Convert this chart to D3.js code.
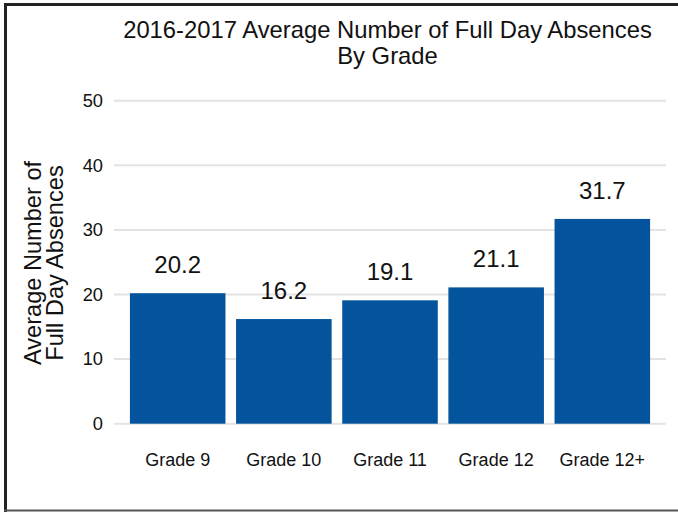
<!DOCTYPE html>
<html>
<head>
<meta charset="utf-8">
<script src="https://cdn.jsdelivr.net/npm/d3@7/dist/d3.min.js"></script>
<style>
  html, body { margin: 0; padding: 0; background: #fff; }
  svg { display: block; font-family: "Liberation Sans", Arial, sans-serif; }
</style>
</head>
<body>
<svg id="chart" width="678" height="512"></svg>
<script>
// Average full-day absences per grade, 2016-2017
const grades = ["Grade 9", "Grade 10", "Grade 11", "Grade 12", "Grade 12+"];
const absences = [20.2, 16.2, 19.1, 21.1, 31.7];
const yTicks = [0, 10, 20, 30, 40, 50];
const titleLines = ["2016-2017 Average Number of Full Day Absences", "By Grade"];
const yTitleLines = ["Average Number of", "Full Day Absences"];

const W = 678, H = 512;
const plot = { left: 114, right: 666, top: 100.7, bottom: 423.7 };
const barColor = "#03549d";
const gridColor = "#e3e3e3";

const svg = d3.select("#chart");

// frame around the figure
svg.append("rect").attr("x", 0).attr("y", 0).attr("width", W).attr("height", H).attr("fill", "#fff");
svg.append("line").attr("x1", 5.5).attr("x2", 5.5).attr("y1", 3).attr("y2", H)
  .attr("stroke", "#222").attr("stroke-width", 3);
svg.append("line").attr("x1", 4).attr("x2", W).attr("y1", 4.5).attr("y2", 4.5)
  .attr("stroke", "#222").attr("stroke-width", 3);
svg.append("line").attr("x1", 4).attr("x2", W).attr("y1", 510.5).attr("y2", 510.5)
  .attr("stroke", "#555").attr("stroke-width", 2);

const x = d3.scaleBand()
  .domain(grades)
  .range([plot.left, plot.right])
  .paddingInner(0.1)
  .paddingOuter(0.15);

const y = d3.scaleLinear()
  .domain([0, 50])
  .range([plot.bottom, plot.top]);

// horizontal gridlines
svg.append("g")
  .selectAll("line")
  .data(yTicks)
  .join("line")
  .attr("x1", plot.left).attr("x2", plot.right)
  .attr("y1", d => y(d)).attr("y2", d => y(d))
  .attr("stroke", gridColor).attr("stroke-width", 2);

// y axis labels
const yAxis = svg.append("g")
  .attr("transform", `translate(${plot.left},0)`)
  .call(d3.axisLeft(y).tickValues(yTicks).tickSize(0).tickPadding(11).tickFormat(d3.format("d")));
yAxis.select(".domain").remove();
yAxis.selectAll("text")
  .attr("font-size", 18.3).attr("fill", "#111")
  .attr("font-family", "'Liberation Sans', Arial, sans-serif");

// x axis labels
const xAxis = svg.append("g")
  .attr("transform", `translate(0,${plot.bottom})`)
  .call(d3.axisBottom(x).tickSize(0).tickPadding(30));
xAxis.select(".domain").remove();
xAxis.selectAll("text")
  .attr("font-size", 18).attr("fill", "#111")
  .attr("font-family", "'Liberation Sans', Arial, sans-serif");

// bars
svg.append("g")
  .selectAll("rect")
  .data(grades)
  .join("rect")
  .attr("x", d => x(d))
  .attr("width", x.bandwidth())
  .attr("y", (d, i) => y(absences[i]))
  .attr("height", (d, i) => y(0) - y(absences[i]))
  .attr("fill", barColor);

// value labels
svg.append("g")
  .selectAll("text")
  .data(grades)
  .join("text")
  .attr("x", d => x(d) + x.bandwidth() / 2)
  .attr("y", (d, i) => y(absences[i]) - 20)
  .attr("text-anchor", "middle")
  .attr("font-size", 24)
  .attr("fill", "#111")
  .text((d, i) => absences[i].toFixed(1));

// title
svg.append("text")
  .attr("text-anchor", "middle")
  .attr("font-size", 23.8)
  .attr("fill", "#111")
  .selectAll("tspan")
  .data(titleLines)
  .join("tspan")
  .attr("x", 387.5)
  .attr("y", (d, i) => 37.5 + i * 26)
  .text(d => d);

// y axis title
svg.append("text")
  .attr("transform", "rotate(-90)")
  .attr("text-anchor", "middle")
  .attr("font-size", 23.6)
  .attr("fill", "#111")
  .selectAll("tspan")
  .data(yTitleLines)
  .join("tspan")
  .attr("x", -263)
  .attr("y", (d, i) => 40.7 + i * 22.6)
  .text(d => d);
</script>
</body>
</html>
